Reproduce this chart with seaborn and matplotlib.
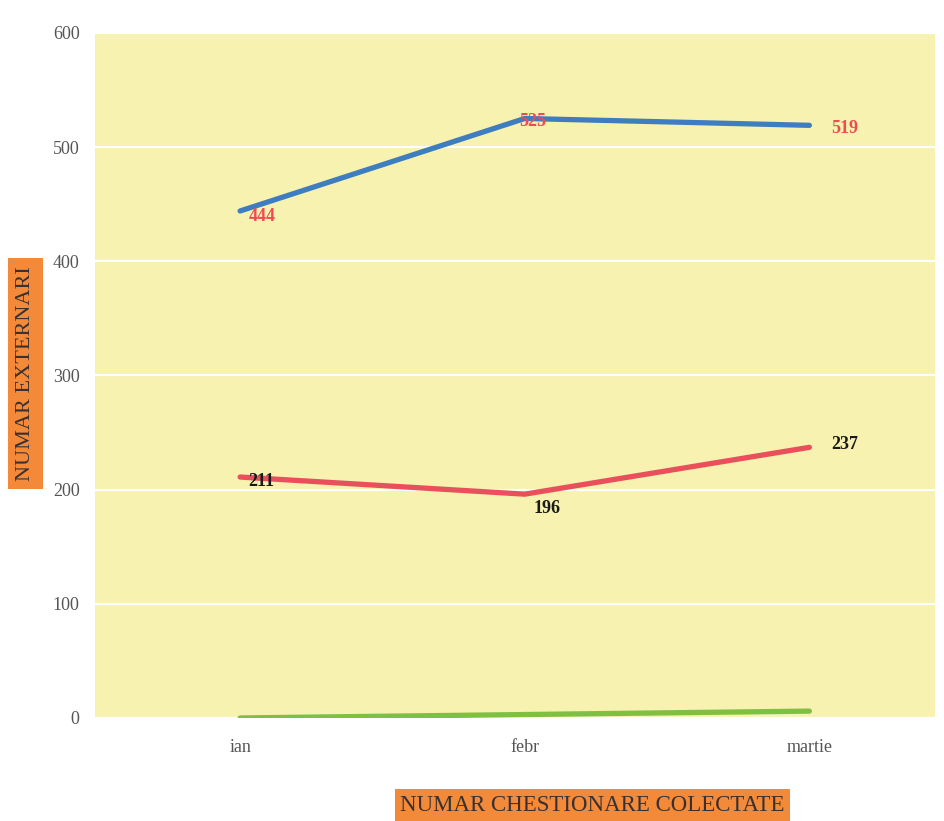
import matplotlib
matplotlib.use("Agg")
import matplotlib.pyplot as plt
import seaborn as sns
import pandas as pd

# Monthly data
months = ["ian", "febr", "martie"]
externari = [444, 525, 519]
chestionare = [211, 196, 237]
baza = [0, 3, 6]

y_ticks = [0, 100, 200, 300, 400, 500, 600]

series_names = ["externari", "chestionare", "baza"]
series_values = [externari, chestionare, baza]
palette = {"externari": "#3F7DC1", "chestionare": "#E9505C", "baza": "#7FC043"}

rows = []
for name, vals in zip(series_names, series_values):
    for i, v in enumerate(vals):
        rows.append({"luna": i, "serie": name, "valoare": v})
df = pd.DataFrame(rows)

sns.set_theme(style="white")
plt.rcParams["font.family"] = ["Liberation Serif", "DejaVu Serif"]

fig = plt.figure(figsize=(9.45, 8.21), dpi=100)
fig.patch.set_facecolor("white")
ax = fig.add_axes([0.1005, 0.1255, 0.8885, 0.8345])
ax.set_facecolor("#F7F2AF")

sns.lineplot(data=df, x="luna", y="valoare", hue="serie", palette=palette,
             linewidth=3.8, legend=False, ax=ax, solid_capstyle="round")

ax.set_xlim(-0.51, 2.44)
ax.set_ylim(0, 600)
ax.set_yticks(y_ticks)
ax.set_yticklabels([str(t) for t in y_ticks])
ax.set_xticks(range(len(months)))
ax.set_xticklabels(months)
ax.tick_params(axis="y", length=0, pad=11, labelsize=13, labelcolor="#555555")
ax.tick_params(axis="x", length=0, pad=15, labelsize=13, labelcolor="#555555")
ax.yaxis.grid(True, color="white", linewidth=1.6)
ax.set_axisbelow(True)
for s in ax.spines.values():
    s.set_visible(False)

ax.set_xlabel("")
ax.set_ylabel("")

# Value labels
blue_offsets = [(6, -4), (-4, -2), (16, -2)]
for i, v in enumerate(externari):
    ax.annotate(str(v), (i, v), xytext=blue_offsets[i], textcoords="offset points",
                color="#EE4B55", fontsize=13, fontweight="bold", va="center", ha="left")
red_offsets = [(6, -3), (6, -10), (16, 2)]
for i, v in enumerate(chestionare):
    ax.annotate(str(v), (i, v), xytext=red_offsets[i], textcoords="offset points",
                color="#1a1a1a", fontsize=13, fontweight="bold", va="center", ha="left")

# Axis titles in orange boxes
fig.text(0.027, 0.545, "NUMAR EXTERNARI", rotation=90, ha="center", va="center",
         fontsize=16, color="#3a3030",
         bbox=dict(boxstyle="square,pad=0.35", facecolor="#F28A3A", edgecolor="none"))
fig.text(0.627, 0.019, "NUMAR CHESTIONARE COLECTATE", ha="center", va="center",
         fontsize=16.5, color="#3a3030",
         bbox=dict(boxstyle="square,pad=0.25", facecolor="#F28A3A", edgecolor="none"))

fig.savefig("out.png", dpi=100, facecolor="white")
